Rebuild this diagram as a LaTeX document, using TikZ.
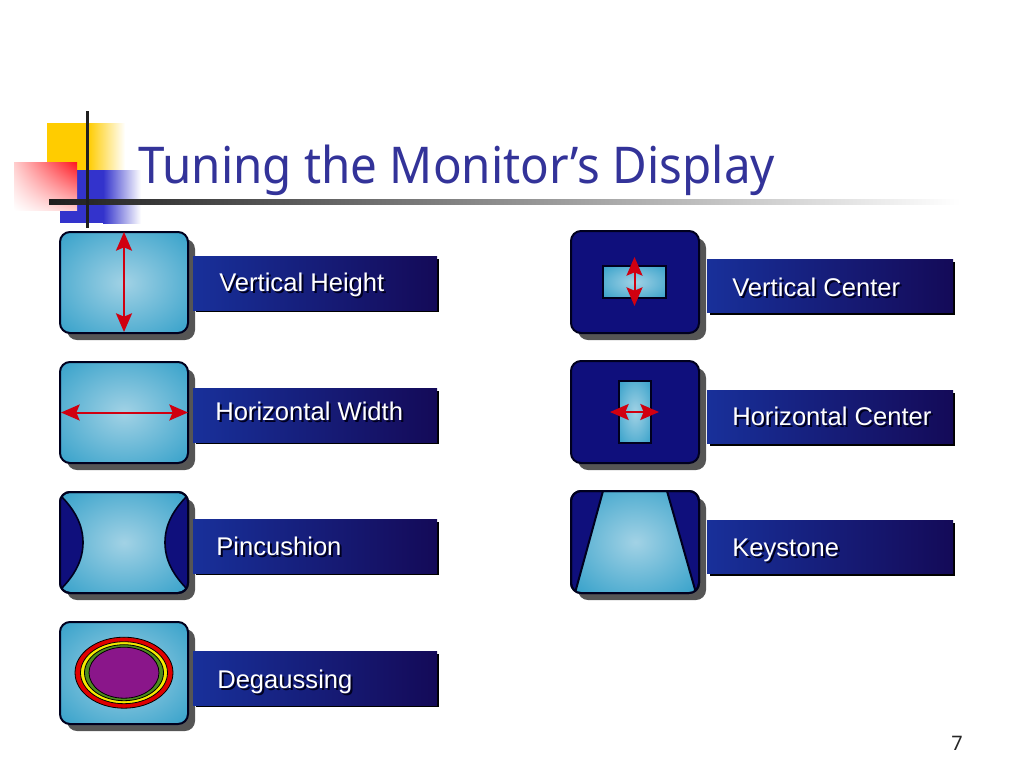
\documentclass[tikz,border=0pt]{standalone}
\usepackage{fontspec}
\setmainfont{Liberation Sans}
\newfontfamily\titlefont[FakeStretch=0.938]{Noto Sans}
\newfontfamily\pagefont{Noto Sans}
\usetikzlibrary{arrows.meta,shadings}
\definecolor{scrInner}{HTML}{A2D2E5}
\definecolor{scrOuter}{HTML}{3AA3CB}
\definecolor{navy}{HTML}{0F0F7C}
\definecolor{edgeDark}{HTML}{00001E}
\definecolor{dropGray}{HTML}{555555}
\definecolor{bandLeft}{HTML}{18309A}
\definecolor{bandRight}{HTML}{140A58}
\definecolor{titleBlue}{HTML}{333399}
\definecolor{arrowRed}{HTML}{D00010}
\definecolor{logoYellow}{HTML}{FFCC00}
\definecolor{logoBlue}{HTML}{3333CC}
\definecolor{logoRed}{HTML}{FF141E}
\definecolor{logoPink}{HTML}{FFCDCD}
\pgfdeclareradialshading{screenglow}{\pgfpoint{0bp}{0bp}}{color(0bp)=(scrInner); color(34bp)=(scrOuter); color(50bp)=(scrOuter)}
\tikzset{
  drop/.style={fill=dropGray, rounded corners=7.5pt},
  screen/.style={draw=edgeDark, line width=1.5pt, rounded corners=7.5pt, shading=screenglow},
  darkscreen/.style={draw=edgeDark, line width=1.5pt, rounded corners=7.5pt, fill=navy},
  rim/.style={draw=edgeDark, line width=1.5pt, rounded corners=7.5pt},
  inset/.style={draw=edgeDark, line width=1.5pt, shading=screenglow},
  wedge/.style={draw=edgeDark, line width=1.2pt, fill=navy},
  band/.style={left color=bandLeft, right color=bandRight},
  bandedge/.style={fill=black},
  caption/.style={anchor=base west, inner sep=0pt, text=white, font=\fontsize{19.2pt}{23pt}\selectfont},
  captionback/.style={anchor=base west, inner sep=0pt, text=edgeDark, font=\fontsize{19.2pt}{23pt}\selectfont},
  arrowline/.style={draw=arrowRed, line width=1.5pt, {Stealth[length=14pt,width=12pt,inset=2.5pt,fill=arrowRed]}-{Stealth[length=14pt,width=12pt,inset=2.5pt,fill=arrowRed]}},
  ring/.style={draw=black, line width=0.6pt}
}
\begin{document}
\begin{tikzpicture}[x=0.75pt, y=-0.75pt]
  \useasboundingbox (0, 0) rectangle (1024, 768);

  \fill[logoYellow] (47, 123) rectangle (88, 170);
  \shade[left color=logoYellow, right color=white] (88, 123) rectangle (125, 170);
  \fill[logoBlue] (60, 170) rectangle (103, 223);
  \shade[left color=logoBlue, right color=white] (103, 170) rectangle (141, 223);
  \shade[upper right=logoRed, upper left=logoPink, lower left=white, lower right=logoPink] (14, 162) rectangle (77, 210);
  \shade[left color=black!88, right color=white] (49, 199) rectangle (960, 204);
  \fill[black!88] (85.5, 111) rectangle (89, 228);

  \node[anchor=base west, inner sep=0pt, text=titleBlue, font=\titlefont\fontsize{38pt}{44pt}\selectfont] (title) at (138, 183) {Tuning the Monitor’s Display};

  \fill[drop] (67, 239) rectangle ++(128, 101);
  \fill[bandedge] (196, 259) rectangle ++(243, 53);
  \shade[band] (193, 256) rectangle ++(244, 54);
  \shade[screen] (60, 232) rectangle ++(128, 101);
  \coordinate (heightTop) at (124, 232);
  \coordinate (heightBottom) at (124, 332);
  \draw[arrowline] (heightTop) -- (heightBottom);
  \node[captionback] (heightBack) at (221, 293) {Vertical Height};
  \node[caption] (heightText) at (219, 291) {Vertical Height};

  \fill[drop] (67, 369) rectangle ++(128, 101);
  \fill[bandedge] (196, 391) rectangle ++(243, 53);
  \shade[band] (193, 388) rectangle ++(244, 54);
  \shade[screen] (60, 362) rectangle ++(128, 101);
  \coordinate (widthLeft) at (61, 412.5);
  \coordinate (widthRight) at (188, 412.5);
  \draw[arrowline] (widthLeft) -- (widthRight);
  \node[captionback] (widthBack) at (217, 422) {Horizontal Width};
  \node[caption] (widthText) at (215, 420) {Horizontal Width};

  \fill[drop] (67, 499) rectangle ++(128, 101);
  \fill[bandedge] (196, 522) rectangle ++(243, 53);
  \shade[band] (193, 519) rectangle ++(244, 54);
  \shade[screen] (60, 492) rectangle ++(128, 101);
  \begin{scope}
    \clip[rounded corners=7.5pt] (60, 492) rectangle ++(128, 101);
    \filldraw[wedge] (60, 495) .. controls (75, 510) and (83, 525) .. (83, 542.5) .. controls (83, 560) and (75, 575) .. (60, 590) -- cycle;
    \filldraw[wedge] (188, 495) .. controls (173, 510) and (165, 525) .. (165, 542.5) .. controls (165, 560) and (173, 575) .. (188, 590) -- cycle;
  \end{scope}
  \draw[rim] (60, 492) rectangle ++(128, 101);
  \node[captionback] (pinBack) at (218, 557) {Pincushion};
  \node[caption] (pinText) at (216, 555) {Pincushion};

  \fill[drop] (67, 629) rectangle ++(128, 102);
  \fill[bandedge] (196, 654) rectangle ++(243, 53);
  \shade[band] (193, 651) rectangle ++(244, 54);
  \shade[screen] (60, 622) rectangle ++(128, 102);
  \filldraw[ring, fill={rgb,255:red,224;green,0;blue,0}] (124, 672.7) ellipse [x radius=49, y radius=35.5];
  \filldraw[ring, fill={rgb,255:red,245;green,235;blue,0}] (124, 672.7) ellipse [x radius=43.5, y radius=31];
  \filldraw[ring, fill={rgb,255:red,77;green,140;blue,30}] (124, 672.7) ellipse [x radius=39.5, y radius=28];
  \filldraw[ring, fill={rgb,255:red,138;green,22;blue,138}] (124, 672.7) ellipse [x radius=35, y radius=25.5];
  \node[captionback] (degaussBack) at (219, 690) {Degaussing};
  \node[caption] (degaussText) at (217, 688) {Degaussing};

  \fill[drop] (578, 238) rectangle ++(128, 102);
  \fill[bandedge] (710, 262) rectangle ++(245, 53);
  \shade[band] (707, 259) rectangle ++(246, 53);
  \filldraw[darkscreen] (571, 231) rectangle ++(128, 102);
  \shade[inset] (603, 266) rectangle ++(63, 32);
  \coordinate (vcenterTop) at (634.5, 257);
  \coordinate (vcenterBottom) at (634.5, 306);
  \draw[arrowline] (vcenterTop) -- (vcenterBottom);
  \node[captionback] (vcenterBack) at (734, 298) {Vertical Center};
  \node[caption] (vcenterText) at (732, 296) {Vertical Center};

  \fill[drop] (578, 368) rectangle ++(128, 102);
  \fill[bandedge] (710, 393) rectangle ++(245, 53);
  \shade[band] (707, 390) rectangle ++(246, 53);
  \filldraw[darkscreen] (571, 361) rectangle ++(128, 102);
  \shade[inset] (619, 381) rectangle ++(32, 62);
  \coordinate (hcenterLeft) at (610, 412);
  \coordinate (hcenterRight) at (659, 412);
  \draw[arrowline] (hcenterLeft) -- (hcenterRight);
  \node[captionback] (hcenterBack) at (734, 427) {Horizontal Center};
  \node[caption] (hcenterText) at (732, 425) {Horizontal Center};

  \fill[drop] (578, 498) rectangle ++(128, 102);
  \fill[bandedge] (710, 523) rectangle ++(245, 53);
  \shade[band] (707, 520) rectangle ++(246, 53);
  \filldraw[darkscreen] (571, 491) rectangle ++(128, 102);
  \begin{scope}
    \clip[rounded corners=7.5pt] (571, 491) rectangle ++(128, 102);
    \shade[inset] (603, 491) -- (667, 491) -- (696, 593) -- (575, 593) -- cycle;
  \end{scope}
  \draw[rim] (571, 491) rectangle ++(128, 102);
  \node[captionback] (keyBack) at (734, 558) {Keystone};
  \node[caption] (keyText) at (732, 556) {Keystone};

  \node[anchor=base, inner sep=0pt, text=black!85, font=\pagefont\fontsize{15pt}{18pt}\selectfont] (pagenum) at (957, 750) {7};
\end{tikzpicture}
\end{document}
